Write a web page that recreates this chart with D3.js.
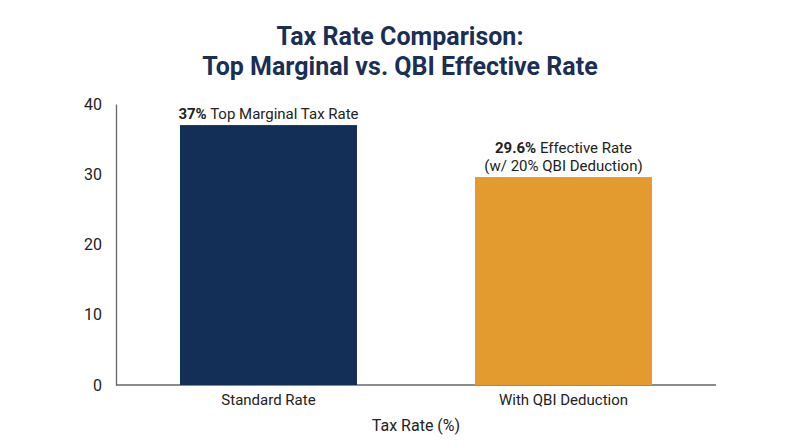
<!DOCTYPE html>
<html><head><meta charset="utf-8">
<script src="https://cdn.jsdelivr.net/npm/d3@7"></script>
<style>body{margin:0;background:#fff;font-family:Roboto,sans-serif}</style>
</head><body><div id="chart"></div>
<script>
const categories = ['Standard Rate', 'With QBI Deduction'];
const rates = [37, 29.6];
const boldLabels = ['37%', '29.6%'];
const restLabels = [[' Top Marginal Tax Rate'], [' Effective Rate', '(w/ 20% QBI Deduction)']];
const colors = ['#142f57', '#e39a2f'];
const yTicks = [0, 10, 20, 30, 40];

const width = 800, height = 447;
const svg = d3.select('#chart').append('svg').attr('width', width).attr('height', height);

const x = d3.scaleBand().domain(categories).range([121, 711]).paddingInner(0.4).paddingOuter(0.2);
const y = d3.scaleLinear().domain([0, 40]).range([385, 104]);

// Title
svg.append('text').attr('x', 400).attr('y', 45).attr('text-anchor', 'middle')
  .attr('font-size', 25).attr('font-weight', 700).attr('fill', '#1b2f55')
  .selectAll('tspan').data(['Tax Rate Comparison:', 'Top Marginal vs. QBI Effective Rate']).enter()
  .append('tspan').attr('x', 400).attr('dy', (d, i) => i ? 30 : 0).text(d => d);

// Axes
const yAxis = svg.append('g').attr('transform', 'translate(116,0)')
  .call(d3.axisLeft(y).tickValues(yTicks).tickSize(0).tickPadding(14));
yAxis.select('.domain').attr('stroke', '#666').attr('stroke-width', 1.3);
yAxis.selectAll('text').attr('font-size', 16).attr('fill', '#222').attr('font-family', 'Roboto');

svg.append('line').attr('x1', 116).attr('x2', 716).attr('y1', y(0)).attr('y2', y(0))
  .attr('stroke', '#666').attr('stroke-width', 1.3);

// Bars
svg.selectAll('rect.bar').data(categories).enter().append('rect')
  .attr('x', d => x(d)).attr('width', x.bandwidth())
  .attr('y', (d, i) => y(rates[i])).attr('height', (d, i) => y(0) - y(rates[i]))
  .attr('fill', (d, i) => colors[i]);

// Category labels
svg.selectAll('text.cat').data(categories).enter().append('text')
  .attr('x', d => x(d) + x.bandwidth() / 2).attr('y', 405).attr('text-anchor', 'middle')
  .attr('font-size', 15).attr('fill', '#222').text(d => d);

// Bar labels
categories.forEach((c, i) => {
  const cx = x(c) + x.bandwidth() / 2;
  const lines = restLabels[i];
  const top = y(rates[i]) - 6 - (lines.length - 1) * 18;
  const t = svg.append('text').attr('x', cx).attr('y', top).attr('text-anchor', 'middle')
    .attr('font-size', 15).attr('fill', '#222');
  t.append('tspan').attr('font-weight', 700).text(boldLabels[i]);
  t.append('tspan').text(lines[0]);
  for (let k = 1; k < lines.length; k++) {
    svg.append('text').attr('x', cx).attr('y', top + 18 * k).attr('text-anchor', 'middle')
      .attr('font-size', 15).attr('fill', '#222').text(lines[k]);
  }
});

// Axis title
svg.append('text').attr('x', 416).attr('y', 431).attr('text-anchor', 'middle')
  .attr('font-size', 16).attr('fill', '#222').text('Tax Rate (%)');
</script></body></html>
